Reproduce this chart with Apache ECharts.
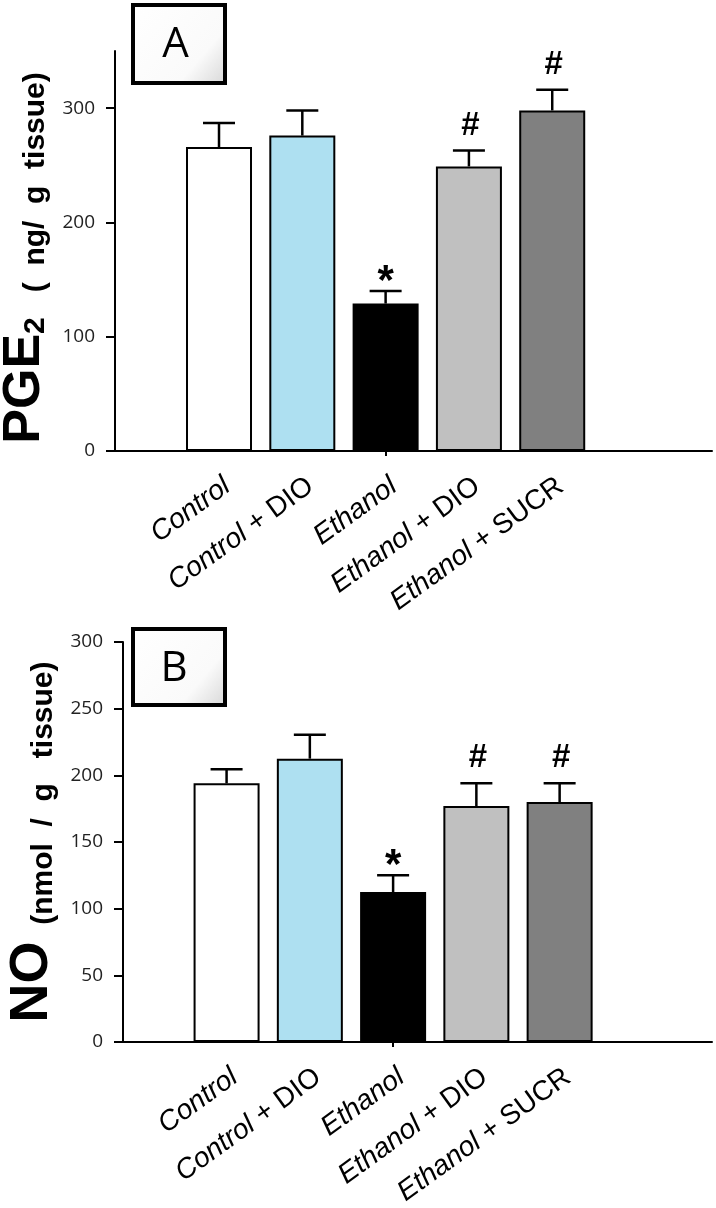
<!DOCTYPE html>
<html><head><meta charset="utf-8">
<script src="https://cdn.jsdelivr.net/npm/echarts@6/dist/echarts.min.js"></script>
<style>html,body{margin:0;padding:0;background:#fff}#c{width:716px;height:1208px}</style>
</head><body><div id="c"></div>
<script>
const categories = ['Control', 'Control + DIO', 'Ethanol', 'Ethanol + DIO', 'Ethanol + SUCR'];
const barColors = ['#ffffff', '#aee0f1', '#000000', '#c0c0c0', '#808080'];
const pgeMean = [266, 276, 129, 249, 298];
const pgeUpper = [287, 298, 140, 263, 316];
const pgeMarks = ['', '', '*', '#', '#'];
const noMean = [194, 212.5, 112.5, 177, 180];
const noUpper = [204.5, 230.5, 125, 194, 194];
const noMarks = ['', '', '*', '#', '#'];
const pgeTicks = [0, 100, 200, 300];
const noTicks = [0, 50, 100, 150, 200, 250, 300];
const catPositions = categories.map((c, i) => i + 1);

const FONT = 'Liberation Sans, Arial, sans-serif';
const chart = echarts.init(document.getElementById('c'), null, {renderer: 'canvas'});

function labelFmt(v) {
  const name = categories[Math.round(v) - 1];
  if (!name) return '';
  const sp = name.indexOf(' ');
  return sp < 0 ? '{i|' + name + '}' : '{i|' + name.slice(0, sp) + '}{n|' + name.slice(sp) + '}';
}

function errRender(marks) {
  return function (params, api) {
    const x = api.value(0);
    const b = api.coord([x, api.value(1)]);
    const t = api.coord([x, api.value(2)]);
    const m = marks[api.value(3)];
    const ch = [
      {type: 'line', shape: {x1: b[0], y1: b[1], x2: t[0], y2: t[1]}, style: {stroke: '#000', lineWidth: 2.5}},
      {type: 'line', shape: {x1: t[0] - 16, y1: t[1], x2: t[0] + 16, y2: t[1]}, style: {stroke: '#000', lineWidth: 2.5}}
    ];
    if (m === '#') {
      ch.push({type: 'text', style: {text: '#', x: t[0] + 1, y: t[1] - 25, align: 'center', verticalAlign: 'middle',
        fontSize: 33, fontStyle: 'italic', fontWeight: 'bold', fontFamily: FONT, fill: '#000'}});
    } else if (m === '*') {
      ch.push({type: 'text', style: {text: '*', x: t[0], y: t[1] - 9, align: 'center', verticalAlign: 'middle',
        fontSize: 42, fontWeight: 'bold', fontFamily: FONT, fill: '#000'}});
    }
    return {type: 'group', children: ch};
  };
}

const xLabel = {
  customValues: catPositions, formatter: labelFmt, rotate: 36, margin: 21, verticalAlign: 'top',
  rich: {
    i: {fontStyle: 'italic', fontSize: 28, fontFamily: FONT, color: '#000'},
    n: {fontSize: 28, fontFamily: FONT, color: '#000'}
  }
};
function xAxisCfg(gi, min, max) {
  return {
    gridIndex: gi, type: 'value', min: min, max: max,
    axisLine: {show: true, onZero: false, lineStyle: {color: '#000', width: 2}},
    axisTick: {show: true, customValues: [3], length: 5, lineStyle: {color: '#000', width: 2}},
    axisLabel: xLabel, splitLine: {show: false}
  };
}
function yAxisCfg(gi, max, ticks, name, rich, gap) {
  return {
    gridIndex: gi, type: 'value', min: 0, max: max,
    axisLine: {show: true, onZero: false, lineStyle: {color: '#000', width: 2}},
    axisTick: {show: true, customValues: ticks, length: 9, lineStyle: {color: '#000', width: 2}},
    axisLabel: {customValues: ticks, margin: 20, fontSize: 19, fontFamily: 'Open Sans', color: '#222'},
    splitLine: {show: false},
    name: name, nameLocation: 'middle', nameRotate: 90, nameGap: gap, nameMoveOverlap: false,
    nameTextStyle: {fontFamily: FONT, fontWeight: 'bold', color: '#000', rich: rich}
  };
}
const richA = {
  big: {fontSize: 52, fontWeight: 'bold', fontFamily: FONT, color: '#000', lineHeight: 52, verticalAlign: 'bottom'},
  sub: {fontSize: 30, fontWeight: 'bold', fontFamily: FONT, color: '#000', lineHeight: 17, verticalAlign: 'bottom'},
  unit: {fontSize: 30, fontWeight: 'bold', fontFamily: FONT, color: '#000', lineHeight: 37, verticalAlign: 'bottom',
    padding: [0, 14, 0, 0]}
};
const richB = {
  big: {fontSize: 54, fontWeight: 'bold', fontFamily: FONT, color: '#000', lineHeight: 54, verticalAlign: 'bottom'},
  unit: {fontSize: 30, fontWeight: 'bold', fontFamily: FONT, color: '#000', lineHeight: 38, verticalAlign: 'bottom'}
};

function barSeries(gi, means) {
  return {
    type: 'bar', xAxisIndex: gi, yAxisIndex: gi, barWidth: 66, silent: true,
    data: means.map((v, i) => ({value: [catPositions[i], v], itemStyle: {color: barColors[i]}})),
    itemStyle: {borderColor: '#000', borderWidth: 2}
  };
}
function errSeries(gi, means, uppers, marks) {
  return {
    type: 'custom', xAxisIndex: gi, yAxisIndex: gi, silent: true, z: 5,
    renderItem: errRender(marks),
    data: means.map((v, i) => [catPositions[i], v, uppers[i], i])
  };
}

const boxFill = new echarts.graphic.LinearGradient(0, 0, 1, 1, [
  {offset: 0, color: '#ffffff'}, {offset: 0.7, color: '#fafafa'}, {offset: 1, color: '#d6d6d6'}
]);

chart.setOption({
  animation: false,
  backgroundColor: '#fff',
  grid: [
    {left: 115, top: 51, right: 4, height: 400, outerBoundsMode: 'none'},
    {left: 123, top: 642, right: 4, height: 400, outerBoundsMode: 'none'}
  ],
  xAxis: [xAxisCfg(0, -0.2485, 6.918), xAxisCfg(1, -0.244, 6.83)],
  yAxis: [
    yAxisCfg(0, 350, pgeTicks, '{big|PGE}{sub|2}{unit|   (  ng/  g  tissue)}', richA, 64),
    yAxisCfg(1, 300, noTicks, '{big|NO}{unit|  (nmol  /  g   tissue)}', richB, 64)
  ],
  series: [
    barSeries(0, pgeMean), errSeries(0, pgeMean, pgeUpper, pgeMarks),
    barSeries(1, noMean), errSeries(1, noMean, noUpper, noMarks)
  ],
  graphic: [
    {type: 'rect', shape: {x: 133, y: 5, width: 92, height: 78}, style: {fill: boxFill, stroke: '#000', lineWidth: 4}},
    {type: 'text', x: 175.5, y: 45, style: {text: 'A', fontSize: 42, fontFamily: 'Open Sans', fill: '#000', align: 'center', verticalAlign: 'middle'}},
    {type: 'rect', shape: {x: 133, y: 629, width: 92, height: 76}, style: {fill: boxFill, stroke: '#000', lineWidth: 4}},
    {type: 'text', x: 174, y: 669, style: {text: 'B', fontSize: 42, fontFamily: 'Open Sans', fill: '#000', align: 'center', verticalAlign: 'middle'}}
  ]
});
</script></body></html>
